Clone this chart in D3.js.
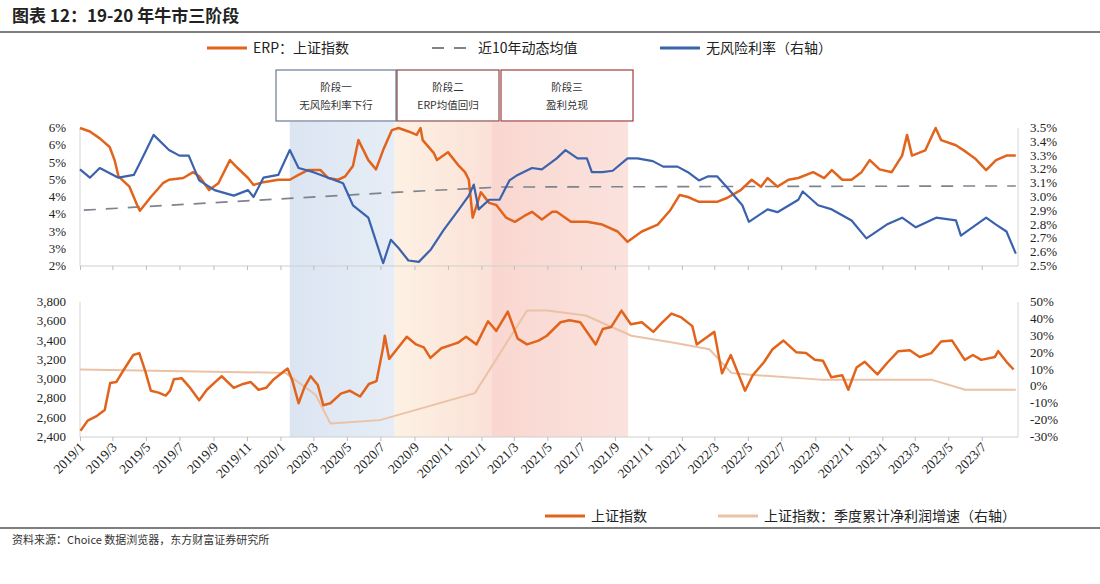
<!DOCTYPE html>
<html><head><meta charset="utf-8">
<script src="https://cdn.jsdelivr.net/npm/d3@7/dist/d3.min.js"></script>
<style>body{margin:0;background:#fff}svg{display:block}</style>
</head><body><svg id="c" width="1100" height="584"></svg>
<script>
// ---------- DATA ----------
const erpDates=["2019-01-01","2019-01-19","2019-02-06","2019-02-24","2019-03-05","2019-03-12","2019-04-01","2019-04-15","2019-04-20","2019-05-10","2019-06-01","2019-06-12","2019-07-08","2019-07-26","2019-08-06","2019-08-24","2019-09-10","2019-10-01","2019-10-15","2019-11-03","2019-11-13","2019-12-01","2019-12-28","2020-01-18","2020-02-03","2020-02-20","2020-03-14","2020-03-28","2020-04-15","2020-04-28","2020-05-12","2020-05-22","2020-06-09","2020-06-23","2020-07-06","2020-07-22","2020-08-03","2020-08-21","2020-09-05","2020-09-12","2020-09-16","2020-10-06","2020-10-12","2020-11-01","2020-11-21","2020-12-02","2020-12-09","2020-12-16","2020-12-31","2021-01-15","2021-01-28","2021-02-15","2021-03-03","2021-03-20","2021-04-03","2021-04-21","2021-05-10","2021-05-18","2021-06-13","2021-07-12","2021-08-09","2021-09-06","2021-09-24","2021-10-20","2021-11-18","2021-12-10","2021-12-28","2022-01-12","2022-02-01","2022-03-06","2022-03-24","2022-04-18","2022-05-08","2022-05-25","2022-06-06","2022-06-24","2022-07-14","2022-08-01","2022-08-28","2022-09-17","2022-10-01","2022-10-20","2022-11-06","2022-11-24","2022-12-09","2022-12-27","2023-01-18","2023-02-06","2023-02-15","2023-02-24","2023-03-20","2023-04-08","2023-04-18","2023-05-15","2023-06-03","2023-06-20","2023-07-09","2023-07-27","2023-08-15","2023-09-01"];
const erpValues=[6.0,5.9,5.7,5.45,5.07,4.6,4.3,3.77,3.6,4.0,4.4,4.5,4.55,4.72,4.6,4.2,4.4,5.07,4.84,4.55,4.35,4.43,4.5,4.5,4.64,4.78,4.78,4.55,4.5,4.6,4.9,5.65,5.07,4.8,5.36,5.94,6.0,5.9,5.8,6.0,5.65,5.28,5.07,5.3,4.9,4.72,4.5,3.4,4.14,3.83,3.77,3.4,3.28,3.45,3.57,3.35,3.57,3.57,3.28,3.28,3.2,3.0,2.7,3.0,3.2,3.6,4.06,4.0,3.86,3.86,3.97,4.2,4.5,4.3,4.55,4.3,4.5,4.55,4.72,4.55,4.78,4.5,4.5,4.72,5.07,4.8,4.72,5.2,5.8,5.2,5.35,6.0,5.65,5.5,5.3,5.1,4.78,5.07,5.2,5.2];
const avgDates=["2019-01-08","2020-08-03","2021-02-05","2023-09-01"];
const avgValues=[3.62,4.14,4.29,4.32];
const yldDates=["2019-01-01","2019-01-19","2019-02-06","2019-03-12","2019-04-09","2019-04-23","2019-05-15","2019-06-12","2019-07-01","2019-07-18","2019-08-06","2019-09-03","2019-10-08","2019-11-03","2019-11-13","2019-12-01","2019-12-28","2020-01-18","2020-02-03","2020-03-01","2020-03-28","2020-04-24","2020-05-12","2020-06-09","2020-07-06","2020-07-20","2020-08-03","2020-08-21","2020-09-09","2020-10-01","2020-10-24","2020-11-21","2020-12-09","2020-12-18","2020-12-27","2021-01-15","2021-02-03","2021-02-21","2021-03-08","2021-04-03","2021-04-21","2021-05-18","2021-06-03","2021-06-25","2021-07-12","2021-07-21","2021-08-09","2021-08-28","2021-09-24","2021-10-12","2021-11-09","2021-11-28","2021-12-24","2022-01-12","2022-02-01","2022-02-18","2022-03-06","2022-03-24","2022-04-21","2022-05-03","2022-06-06","2022-06-24","2022-08-01","2022-08-09","2022-09-06","2022-10-01","2022-11-06","2022-12-03","2023-01-09","2023-02-06","2023-03-03","2023-04-09","2023-05-15","2023-05-24","2023-07-09","2023-07-27","2023-08-15","2023-09-01"];
const yldValues=[3.2,3.14,3.21,3.14,3.16,3.27,3.45,3.34,3.30,3.30,3.12,3.05,3.01,3.05,3.0,3.14,3.16,3.34,3.21,3.18,3.14,3.10,2.94,2.85,2.52,2.69,2.63,2.54,2.53,2.62,2.76,2.91,3.01,3.09,2.91,2.98,2.98,3.12,3.16,3.21,3.20,3.28,3.34,3.28,3.28,3.18,3.18,3.19,3.28,3.28,3.26,3.22,3.22,3.18,3.12,3.15,3.15,3.07,2.94,2.82,2.91,2.89,2.98,3.04,2.94,2.91,2.83,2.70,2.80,2.85,2.78,2.85,2.83,2.72,2.85,2.80,2.75,2.59];
const idxDates=["2019-01-02","2019-01-15","2019-02-01","2019-02-15","2019-02-25","2019-03-08","2019-03-22","2019-04-08","2019-04-19","2019-04-30","2019-05-10","2019-05-24","2019-06-06","2019-06-14","2019-06-21","2019-07-05","2019-07-19","2019-08-06","2019-08-20","2019-09-06","2019-09-16","2019-10-08","2019-10-25","2019-11-08","2019-11-22","2019-12-06","2019-12-20","2020-01-14","2020-01-23","2020-02-03","2020-02-14","2020-02-25","2020-03-09","2020-03-19","2020-04-01","2020-04-20","2020-05-06","2020-05-25","2020-06-10","2020-06-24","2020-07-06","2020-07-09","2020-07-17","2020-07-31","2020-08-18","2020-09-04","2020-09-18","2020-09-30","2020-10-20","2020-11-10","2020-11-20","2020-12-04","2020-12-23","2021-01-13","2021-01-28","2021-02-18","2021-03-08","2021-03-25","2021-04-15","2021-04-30","2021-05-25","2021-06-10","2021-06-30","2021-07-28","2021-08-10","2021-08-25","2021-09-13","2021-09-30","2021-10-20","2021-11-10","2021-11-25","2021-12-13","2021-12-31","2022-01-20","2022-01-28","2022-02-14","2022-03-01","2022-03-15","2022-03-31","2022-04-26","2022-05-10","2022-05-31","2022-06-15","2022-07-05","2022-07-28","2022-08-15","2022-08-31","2022-09-15","2022-09-30","2022-10-20","2022-10-31","2022-11-15","2022-11-30","2022-12-23","2023-01-10","2023-01-30","2023-02-20","2023-03-10","2023-03-31","2023-04-18","2023-05-08","2023-05-31","2023-06-15","2023-06-30","2023-07-25","2023-07-31","2023-08-15","2023-08-28"];
const idxValues=[2465,2570,2620,2680,2960,2970,3100,3250,3270,3080,2880,2860,2830,2880,3000,3010,2920,2780,2890,2980,3030,2910,2950,2970,2890,2910,3000,3110,2980,2750,2920,3030,2940,2730,2750,2850,2880,2820,2950,2980,3330,3450,3210,3310,3440,3360,3330,3220,3320,3360,3380,3440,3360,3600,3500,3700,3420,3360,3400,3450,3590,3610,3590,3360,3520,3540,3710,3570,3590,3490,3580,3680,3640,3550,3360,3430,3490,3060,3250,2880,3040,3180,3310,3400,3280,3270,3200,3190,3020,3040,2890,3120,3180,3050,3170,3290,3300,3230,3270,3390,3400,3200,3250,3200,3230,3290,3180,3100];
const grDates=["2019-01-01","2020-01-10","2020-03-05","2020-04-01","2020-06-30","2020-12-20","2021-03-25","2021-05-01","2021-07-10","2021-10-01","2021-12-15","2022-02-20","2022-04-01","2022-05-01","2022-09-10","2023-03-31","2023-06-01","2023-09-01"];
const grValues=[10,8,-5,-22,-20,-4,45,45,42,30,26,22,8,7,4,4,-2,-2];
const leftTopTicks=[2,2.5,3,3.5,4,4.5,5,5.5,6];
const rightTopTicks=[2.5,2.6,2.7,2.8,2.9,3.0,3.1,3.2,3.3,3.4,3.5];
const leftBotTicks=[2400,2600,2800,3000,3200,3400,3600,3800];
const rightBotTicks=[-30,-20,-10,0,10,20,30,40,50];
const stages=[{s:"2020-01-18",e:"2020-07-27",t1:"阶段一",t2:"无风险利率下行"},{s:"2020-07-27",e:"2021-01-19",t1:"阶段二",t2:"ERP均值回归"},{s:"2021-01-19",e:"2021-09-25",t1:"阶段三",t2:"盈利兑现"}];

// ---------- DRAW ----------
const P=d3.timeParse("%Y-%m-%d");
const svg=d3.select("#c");
const ORANGE="#e2641c",BLUE="#3b62ad",DASH="#7c848e",LIGHT="#ebc2a6";
const serif="'Liberation Serif','DejaVu Serif',serif";
const x=d3.scaleTime().domain([P("2019-01-01"),P("2023-09-05")]).range([80,1018]);
const yTL=d3.scaleLinear().domain([2,6]).range([266,128]);
const yTR=d3.scaleLinear().domain([2.5,3.5]).range([266,128]);
const yBL=d3.scaleLinear().domain([2400,3800]).range([437,302]);
const yBR=d3.scaleLinear().domain([-30,50]).range([437,302]);

const defs=svg.append("defs");
const g1=defs.append("linearGradient").attr("id","g1");
g1.append("stop").attr("offset","0").attr("stop-color","#dbe5f2");
g1.append("stop").attr("offset","1").attr("stop-color","#e6edf6");
const g2=defs.append("linearGradient").attr("id","g2");
g2.append("stop").attr("offset","0").attr("stop-color","#fdf1e3");
g2.append("stop").attr("offset","1").attr("stop-color","#fbe1d8");
const g3=defs.append("linearGradient").attr("id","g3");
g3.append("stop").attr("offset","0").attr("stop-color","#f9d7d0");
g3.append("stop").attr("offset","1").attr("stop-color","#fbe2dd");
const fills=["url(#g1)","url(#g2)","url(#g3)"];
stages.forEach((st,i)=>{
  svg.append("rect").attr("x",x(P(st.s))).attr("width",x(P(st.e))-x(P(st.s)))
   .attr("y",122).attr("height",437-122).attr("fill",fills[i]);
});

// title
svg.append("text").attr("x",12).attr("y",22).attr("font-family","'Noto Sans CJK SC'").attr("font-weight","bold").attr("font-size",17).attr("fill","#222").text("图表 12：19-20 年牛市三阶段");
svg.append("line").attr("x1",0).attr("x2",1100).attr("y1",32).attr("y2",32).attr("stroke","#555").attr("stroke-width",1.5);
svg.append("line").attr("x1",0).attr("x2",1100).attr("y1",528).attr("y2",528).attr("stroke","#555").attr("stroke-width",1.5);
svg.append("text").attr("x",12).attr("y",544).attr("font-family","'Noto Sans CJK SC'").attr("font-size",11).attr("fill","#333").text("资料来源：Choice 数据浏览器，东方财富证券研究所");

// legends
const cjk="'Noto Sans CJK SC'";
function leg(x0,y0,color,dash,w,label,sw){
  svg.append("line").attr("x1",x0).attr("x2",x0+w).attr("y1",y0).attr("y2",y0).attr("stroke",color).attr("stroke-width",sw||3).attr("stroke-dasharray",dash||null);
  svg.append("text").attr("x",x0+w+6).attr("y",y0+5).attr("font-family",cjk).attr("font-size",14).attr("fill","#222").text(label);
}
leg(207,48,ORANGE,null,40,"ERP：上证指数");
leg(432,48,DASH,"12,10",40,"近10年动态均值",1.8);
leg(660,48,BLUE,null,40,"无风险利率（右轴）");
leg(545,516,ORANGE,null,40,"上证指数");
leg(718,516,LIGHT,null,40,"上证指数：季度累计净利润增速（右轴）");

// stage boxes
const bx=[[276,396,"#6a7a94"],[397,499,"#8a4a4a"],[501,633,"#a13a3a"]];
stages.forEach((st,i)=>{
  svg.append("rect").attr("x",bx[i][0]).attr("y",70).attr("width",bx[i][1]-bx[i][0]).attr("height",51).attr("fill","#fff").attr("stroke",bx[i][2]).attr("stroke-width",1.2);
  const cx=(bx[i][0]+bx[i][1])/2;
  svg.append("text").attr("x",cx).attr("y",91).attr("text-anchor","middle").attr("font-family",cjk).attr("font-size",10.5).attr("fill","#333").text(st.t1);
  svg.append("text").attr("x",cx).attr("y",109).attr("text-anchor","middle").attr("font-family",cjk).attr("font-size",10.5).attr("fill","#333").text(st.t2);
});

// axes
const tickDates=d3.timeMonth.every(2).range(P("2019-01-01"),P("2023-08-01"));
function baseAxis(y0){
  svg.append("line").attr("x1",80).attr("x2",1018).attr("y1",y0).attr("y2",y0).attr("stroke","#cfcfcf");
  const a=svg.append("g").attr("transform",`translate(0,${y0})`).call(d3.axisBottom(x).tickValues(tickDates).tickSize(4).tickFormat(""));
  a.select(".domain").remove(); a.selectAll("line").attr("stroke","#bbb");
  return a;
}
baseAxis(266);
const ab=baseAxis(437);
ab.selectAll(".tick").append("text").attr("transform","translate(5,11) rotate(-45)").attr("text-anchor","end")
  .attr("font-family",serif).attr("font-size",13.5).attr("fill","#222").text(d=>d3.timeFormat("%Y/")(d)+(d.getMonth()+1));
[[80,128,266],[1018,128,266],[80,302,437],[1018,302,437]].forEach(v=>svg.append("line").attr("x1",v[0]).attr("x2",v[0]).attr("y1",v[1]).attr("y2",v[2]).attr("stroke","#d5d5d5"));
function ylab(scale,ticks,xx,anchor,fmt){
  svg.append("g").selectAll("text").data(ticks).join("text").attr("x",xx).attr("y",d=>scale(d)+4).attr("text-anchor",anchor)
   .attr("font-family",serif).attr("font-size",13).attr("fill","#222").text(fmt);
}
ylab(yTL,leftTopTicks,66,"end",d=>Math.round(d+0.001)+"%");
ylab(yTR,rightTopTicks,1030,"start",d=>d.toFixed(1)+"%");
ylab(yBL,leftBotTicks,66,"end",d=>d3.format(",")(d));
ylab(yBR,rightBotTicks,1030,"start",d=>d+"%");

// lines
function draw(dates,vals,ys,color,w,dash){
  const data=dates.map((d,i)=>[P(d),vals[i]]);
  svg.append("path").datum(data).attr("fill","none").attr("stroke",color).attr("stroke-width",w).attr("stroke-linejoin","round")
   .attr("stroke-dasharray",dash||null).attr("d",d3.line().x(d=>x(d[0])).y(d=>ys(d[1])));
}
draw(avgDates,avgValues,yTL,DASH,1.6,"12,10");
draw(erpDates,erpValues,yTL,ORANGE,2.5);
draw(yldDates,yldValues,yTR,BLUE,2.2);
draw(grDates,grValues,yBR,LIGHT,2);
draw(idxDates,idxValues,yBL,ORANGE,2.5);
</script></body></html>
